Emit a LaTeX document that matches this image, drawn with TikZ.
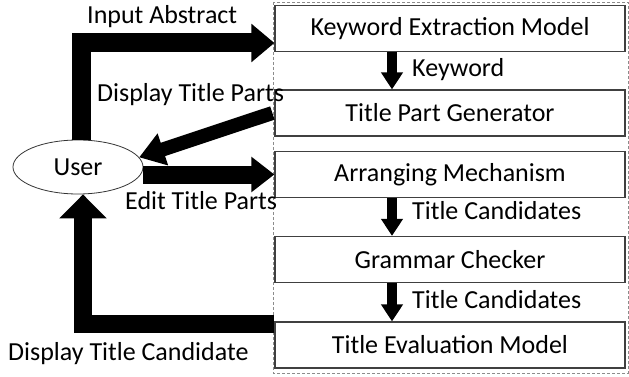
\documentclass[tikz,border=0pt]{standalone}
\usepackage{fontspec}
\setmainfont{Carlito}
\usetikzlibrary{shapes.geometric,arrows.meta}

\begin{document}
\begin{tikzpicture}[x=1pt,y=-1pt,
    font=\fontsize{26}{30}\selectfont,
    module/.style={draw=black!75,line width=1.2pt,minimum width=350pt,minimum height=46pt,inner sep=0pt},
    lbl/.style={anchor=base west,inner sep=0pt},
    bigflow/.style={line width=19pt,line join=miter,-{Triangle[length=23pt,width=37pt]}},
    smallflow/.style={line width=10pt,-{Triangle[length=17pt,width=21pt]}}]
    \useasboundingbox (0,0) rectangle (629,377);
    \draw[black!45,line width=0.8pt,dash pattern=on 3pt off 2pt] (273,2) rectangle (628,373);
    \node[module] (kem) at (450,28.5) {Keyword Extraction Model};
    \node[module] (tpg) at (450,113) {Title Part Generator};
    \node[module] (am) at (450,174.5) {Arranging Mechanism};
    \node[module] (gc) at (450,259.5) {Grammar Checker};
    \node[module] (tem) at (450,345) {Title Evaluation Model};
    \node[draw=black!80,line width=0.8pt,ellipse,minimum width=130pt,minimum height=54pt,inner sep=0pt] (user) at (78,167) {User};
    \draw[bigflow] ([xshift=3pt]user.north) |- ([yshift=-14.5pt]kem.west);
    \draw[smallflow] ([xshift=-58pt]kem.south) -- ([xshift=-58pt]tpg.north);
    \draw[line width=14pt,-{Triangle[length=25pt,width=32pt]}] ([xshift=-2pt]tpg.west) -- (user.9);
    \draw[line width=18pt,-{Triangle[length=23pt,width=34pt]}] (am.west -| user.east) -- (am.west);
    \draw[smallflow] ([xshift=-58pt]am.south) -- ([xshift=-58pt]gc.north);
    \draw[smallflow] ([xshift=-58pt]gc.south) -- ([xshift=-58pt]tem.north);
    \draw[line width=18pt,line join=miter,-{Triangle[length=24pt,width=46pt]}] ([yshift=21pt]tem.west) -| ([xshift=5pt]user.south);
    \node[lbl] (inlbl) at (87,24) {Input Abstract};
    \node[lbl] (kwlbl) at (412,77) {Keyword};
    \node[lbl] (dplbl) at (97,102) {Display Title Parts};
    \node[lbl] (edlbl) at (125,209) {Edit Title Parts};
    \node[lbl] (tc1lbl) at (412,219) {Title Candidates};
    \node[lbl] (tc2lbl) at (412,308) {Title Candidates};
    \node[lbl] (dclbl) at (8,360) {Display Title Candidate};
\end{tikzpicture}
\end{document}
